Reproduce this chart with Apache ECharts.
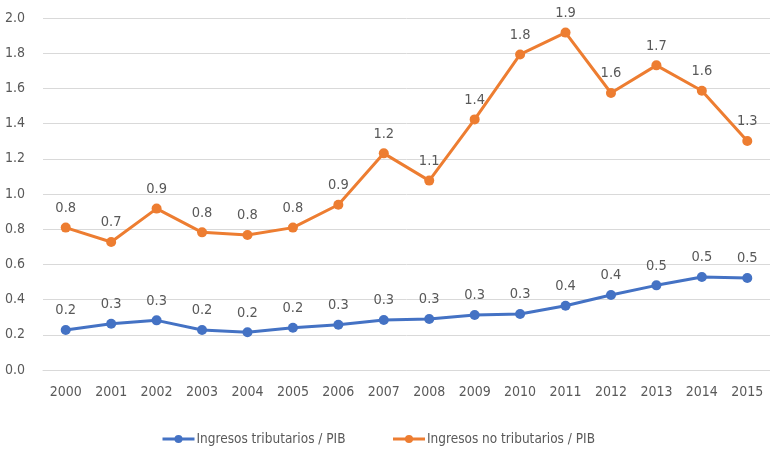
<!DOCTYPE html>
<html>
<head>
<meta charset="utf-8">
<script src="https://cdn.jsdelivr.net/npm/echarts@6/dist/echarts.min.js"></script>
<style>html,body{margin:0;padding:0;background:#fff}#c{width:770px;height:449px}</style>
</head>
<body>
<div id="c"></div>
<script>
var years = ['2000','2001','2002','2003','2004','2005','2006','2007','2008','2009','2010','2011','2012','2013','2014','2015'];
var tributarios = [0.227,0.263,0.282,0.227,0.214,0.240,0.257,0.284,0.290,0.312,0.318,0.365,0.426,0.481,0.528,0.523];
var noTributarios = [0.809,0.727,0.917,0.782,0.767,0.809,0.939,1.231,1.076,1.424,1.793,1.917,1.574,1.731,1.587,1.301];
var seriesNames = ['Ingresos tributarios / PIB','Ingresos no tributarios / PIB'];
var FONT = '"Liberation Sans Narrow","DejaVu Sans Condensed","Roboto",sans-serif';
var GRAY = '#595959';
var chart = echarts.init(document.getElementById('c'), null, {renderer:'canvas'});
function mk(name, data, color){
  return {
    name: name, type: 'line', data: data,
    symbol: 'circle', symbolSize: 10,
    lineStyle: {width: 3, color: color},
    itemStyle: {color: color},
    label: {show: true, position: 'top', distance: 7, color: GRAY, fontFamily: FONT, fontSize: 14.5,
      formatter: function(p){ return p.value.toFixed(1); }},
    animation: false
  };
}
chart.setOption({
  animation: false,
  grid: {left: 43, top: 18, width: 733, height: 352, containLabel: false},
  legend: {
    top: 427, left: 156, itemGap: 46, itemWidth: 32, itemHeight: 10,
    lineStyle: {width: 3},
    textStyle: {color: GRAY, fontFamily: FONT, fontSize: 13.5, padding: [0,0,0,-3]},
    data: seriesNames
  },
  xAxis: {
    type: 'category', data: years, boundaryGap: true,
    axisLine: {show: true, lineStyle: {color: '#D9D9D9'}},
    axisTick: {show: false},
    axisLabel: {color: GRAY, fontFamily: FONT, fontSize: 14, margin: 15}
  },
  yAxis: {
    type: 'value', min: 0, max: 2, interval: 0.2,
    axisLine: {show: false}, axisTick: {show: false},
    splitLine: {lineStyle: {color: '#D9D9D9', width: 1}},
    axisLabel: {color: GRAY, fontFamily: FONT, fontSize: 14, margin: 18,
      formatter: function(v){ return v.toFixed(1); }}
  },
  series: [mk(seriesNames[0], tributarios, '#4472C4'), mk(seriesNames[1], noTributarios, '#ED7D31')]
});
</script>
</body>
</html>
